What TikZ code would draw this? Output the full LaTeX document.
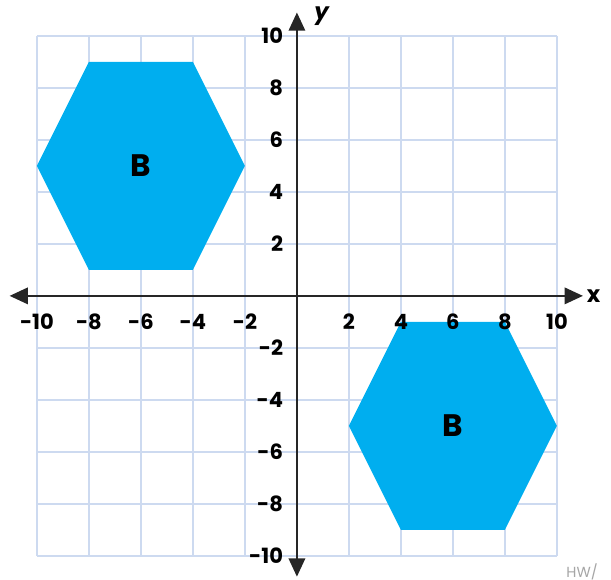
\documentclass[tikz,border=0pt]{standalone}
\usepackage{xcolor}
\usepackage{fontspec}
\setmainfont{Poppins}
\usepackage{tikz}
\usetikzlibrary{arrows.meta, positioning}
\definecolor{gridblue}{RGB}{205,218,240}
\definecolor{hexblue}{RGB}{0,174,239}

\begin{document}
\begin{tikzpicture}[
				x=0.5cm, y=0.5cm,
				gridline/.style={draw=gridblue, line width=1pt},
				axis/.style={black!85, line width=1.1pt, {Triangle[length=10pt,width=9pt]}-{Triangle[length=10pt,width=9pt]}},
				tick/.style={font=\bfseries\fontsize{11.5}{13}\selectfont, inner sep=1pt},
				hexagon/.style={fill=hexblue},
				hexlabel/.style={font=\bfseries\fontsize{17}{20}\selectfont},
				>=Stealth
				]
				\useasboundingbox (-11.42,-10.92) rectangle (12.08,11.38);
				% grid
				\draw[gridline] (-10,-10) grid[step=2] (10,10);
				% the two hexagons
				\fill[hexagon] (-10,5) -- (-8,9) -- (-4,9) -- (-2,5) -- (-4,1) -- (-8,1) -- cycle;
				\fill[hexagon] (2,-5) -- (4,-1) -- (8,-1) -- (10,-5) -- (8,-9) -- (4,-9) -- cycle;
				\node[hexlabel] (b1) at (-6,5) {B};
				\node[hexlabel] (b2) at (6,-5) {B};
				% axes
				\coordinate (xl) at (-11.05,0);
				\coordinate (xr) at (11.0,0);
				\coordinate (yb) at (0,-10.8);
				\coordinate (yt) at (0,10.9);
				\draw[axis] (xl) -- (xr);
				\draw[axis] (yb) -- (yt);
				\node[tick, font=\bfseries\fontsize{12.5}{14}\selectfont, right=1pt of xr] (xlab) {x};
				\node[tick, font=\bfseries\itshape\fontsize{12.5}{14}\selectfont] (ylab) at (0.95,10.75) {y};
				% tick labels
				\foreach \v in {-10,-8,...,-2,2,4,...,10} {
					\node[tick] (xt\v) at (\v,-1.0) {\v};
					\node[tick, anchor=east] (yt\v) at (-0.45,\v) {\v};
				}
				\node[anchor=west, text=black!35, font=\fontsize{8}{9}\selectfont, inner sep=0pt] (hw) at (10.35,-10.6) {HW/};
			\end{tikzpicture}
\end{document}
